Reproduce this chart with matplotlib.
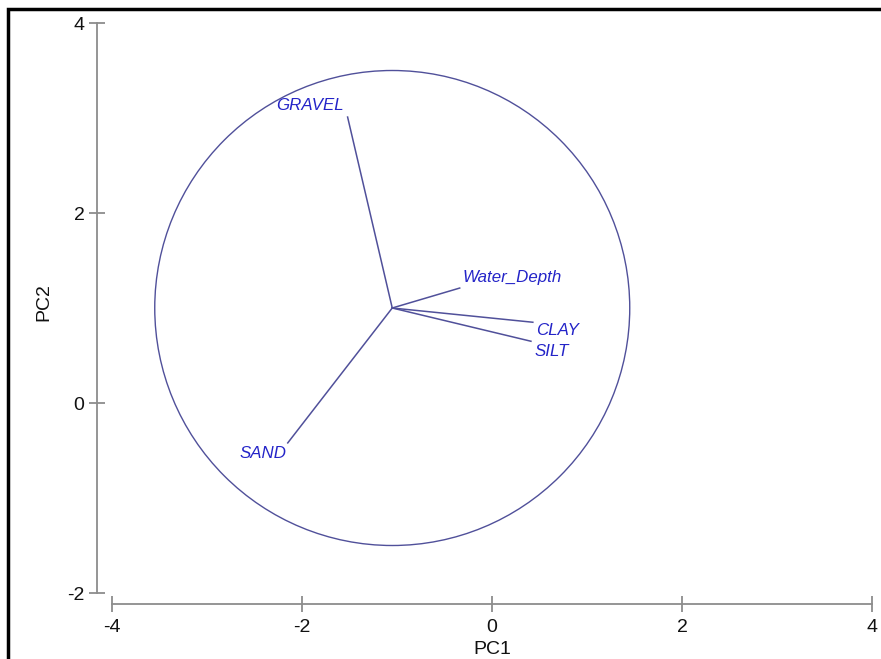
import numpy as np
import matplotlib.pyplot as plt
from matplotlib.patches import Circle, Rectangle

# PCA loading vectors (PC1, PC2 end points), drawn from the circle centre
variables = ["GRAVEL", "Water_Depth", "CLAY", "SILT", "SAND"]
pc1_end = [-1.52, -0.34, 0.43, 0.41, -2.15]
pc2_end = [3.01, 1.21, 0.85, 0.65, -0.42]
origin = (-1.05, 1.0)
radius = 2.5

x_ticks = [-4, -2, 0, 2, 4]
y_ticks = [-2, 0, 2, 4]

# label placement: (dx, dy) in pixels, ha, va
label_pos = {
    "GRAVEL": (-4, 12, "right", "center"),
    "Water_Depth": (3, 3, "left", "bottom"),
    "CLAY": (3, -1, "left", "top"),
    "SILT": (4, -3, "left", "top"),
    "SAND": (-1, -3, "right", "top"),
}

plt.rcParams["font.family"] = ["Liberation Sans", "DejaVu Sans"]
plt.rcParams["axes.unicode_minus"] = False

W, H = 881, 659
fig = plt.figure(figsize=(W / 100, H / 100), dpi=100)

# pixel mapping: x=0 at px 492, y=0 at px 403, 95 px per unit
ppu = 95.0
ax_left, ax_right, ax_top, ax_bot = 60, 881, 10, 659
ax = fig.add_axes([ax_left / W, 1 - ax_bot / H, (ax_right - ax_left) / W, (ax_bot - ax_top) / H])
ax.set_xlim((ax_left - 492) / ppu, (ax_right - 492) / ppu)
ax.set_ylim((403 - ax_bot) / ppu, (403 - ax_top) / ppu)
ax.patch.set_alpha(0)

axis_col = "#8c8c8c"
for s in ["top", "right"]:
    ax.spines[s].set_visible(False)
ax.spines["left"].set_position(("data", (97 - 492) / ppu))
ax.spines["left"].set_bounds(-2, 4)
ax.spines["bottom"].set_position(("data", (403 - 604) / ppu))
ax.spines["bottom"].set_bounds(-4, 4)
for s in ["left", "bottom"]:
    ax.spines[s].set_color(axis_col)
    ax.spines[s].set_linewidth(1.3)

ax.set_xticks(x_ticks)
ax.set_yticks(y_ticks)
ax.tick_params(direction="inout", length=12, width=1.3, color=axis_col,
               labelsize=14, labelcolor="#111111")
ax.tick_params(axis="x", pad=5)
ax.tick_params(axis="y", pad=3)
ax.set_xlabel("PC1", fontsize=14, color="#111111")
ax.set_ylabel("PC2", fontsize=14, color="#111111")
ax.xaxis.set_label_coords((492 - ax_left) / (ax_right - ax_left), 1 - (641 - ax_top) / (ax_bot - ax_top))
ax.yaxis.set_label_coords((52 - ax_left) / (ax_right - ax_left), 1 - (302 - ax_top) / (ax_bot - ax_top))

line_col = "#50509a"
ax.add_patch(Circle(origin, radius, fill=False, edgecolor=line_col, linewidth=1.0))

for name, x, y in zip(variables, pc1_end, pc2_end):
    ax.plot([origin[0], x], [origin[1], y], color=line_col, linewidth=1.1)
    dx, dy, ha, va = label_pos[name]
    ax.annotate(name, (x, y), xytext=(dx * 0.72, dy * 0.72), textcoords="offset points",
                ha=ha, va=va, fontsize=12.2, style="italic", color="#2424c8")

# outer frame, cut off at right and bottom
fig.patches.append(Rectangle((7.5 / W, -0.1), 1.2, 1 - 9 / H + 0.1, transform=fig.transFigure,
                             fill=False, edgecolor="black", linewidth=2.5))

fig.savefig("out.png", dpi=100)
